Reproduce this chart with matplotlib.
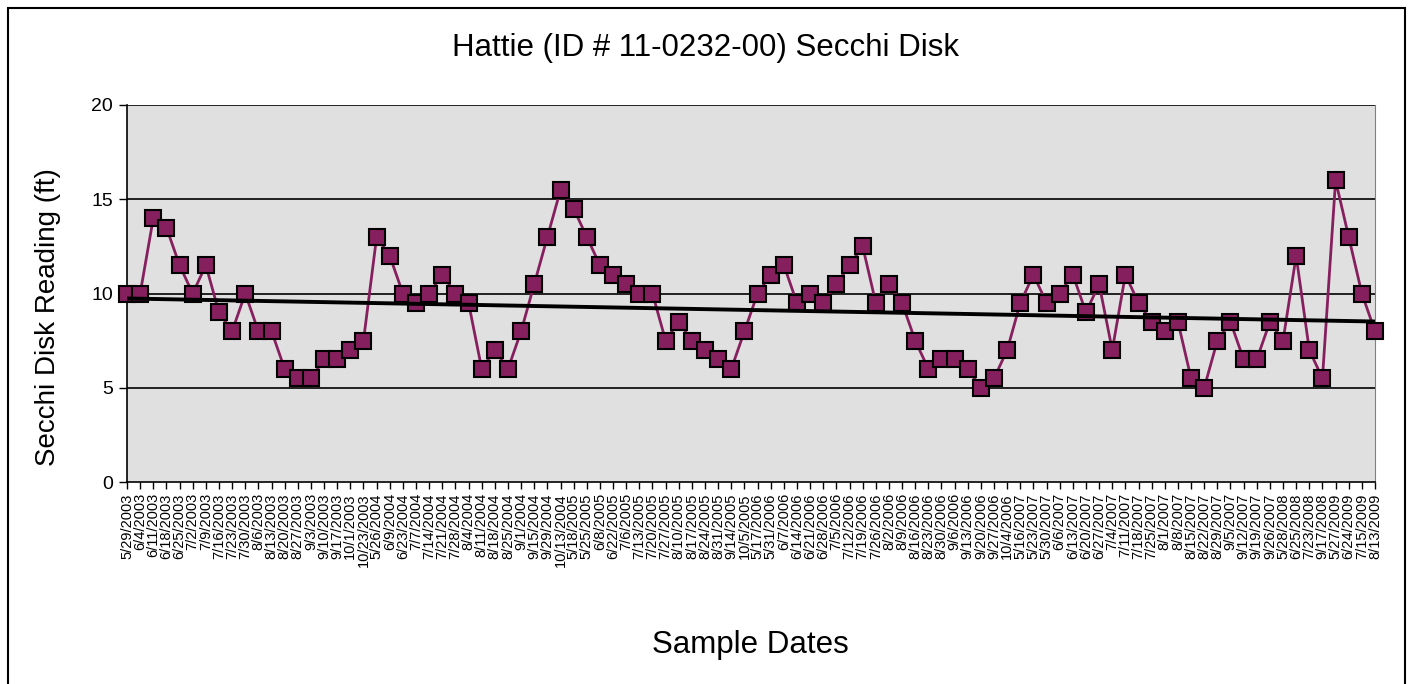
import numpy as np
import matplotlib
matplotlib.use("Agg")
import matplotlib.pyplot as plt
from matplotlib.patches import Rectangle

plt.rcParams['font.family'] = ['Liberation Sans', 'DejaVu Sans']

# sample dates (category labels)
dates = [
    "5/29/2003", "6/4/2003", "6/11/2003", "6/18/2003", "6/25/2003", "7/2/2003",
    "7/9/2003", "7/16/2003", "7/23/2003", "7/30/2003", "8/6/2003", "8/13/2003",
    "8/20/2003", "8/27/2003", "9/3/2003", "9/10/2003", "9/17/2003", "10/1/2003",
    "10/23/2003",
    "5/26/2004", "6/9/2004", "6/23/2004", "7/7/2004", "7/14/2004", "7/21/2004",
    "7/28/2004", "8/4/2004", "8/11/2004", "8/18/2004", "8/25/2004", "9/1/2004",
    "9/15/2004", "9/29/2004", "10/13/2004",
    "5/18/2005", "5/25/2005", "6/8/2005", "6/22/2005", "7/6/2005", "7/13/2005",
    "7/20/2005", "7/27/2005", "8/10/2005", "8/17/2005", "8/24/2005", "8/31/2005",
    "9/14/2005", "10/5/2005",
    "5/17/2006", "5/31/2006", "6/7/2006", "6/14/2006", "6/21/2006", "6/28/2006",
    "7/5/2006", "7/12/2006", "7/19/2006", "7/26/2006", "8/2/2006", "8/9/2006",
    "8/16/2006", "8/23/2006", "8/30/2006", "9/6/2006", "9/13/2006", "9/20/2006",
    "9/27/2006", "10/4/2006",
    "5/16/2007", "5/23/2007", "5/30/2007", "6/6/2007", "6/13/2007", "6/20/2007",
    "6/27/2007", "7/4/2007", "7/11/2007", "7/18/2007", "7/25/2007", "8/1/2007",
    "8/8/2007", "8/15/2007", "8/22/2007", "8/29/2007", "9/5/2007", "9/12/2007",
    "9/19/2007", "9/26/2007",
    "5/28/2008", "6/25/2008", "7/23/2008", "9/17/2008",
    "5/27/2009", "6/24/2009", "7/15/2009", "8/13/2009",
]

# secchi readings (ft)
secchi = [
    10, 10, 14, 13.5, 11.5, 10, 11.5, 9, 8, 10, 8, 8, 6, 5.5, 5.5, 6.5, 6.5, 7, 7.5,
    13, 12, 10, 9.5, 10, 11, 10, 9.5, 6, 7, 6, 8, 10.5, 13, 15.5,
    14.5, 13, 11.5, 11, 10.5, 10, 10, 7.5, 8.5, 7.5, 7, 6.5, 6, 8,
    10, 11, 11.5, 9.5, 10, 9.5, 10.5, 11.5, 12.5, 9.5, 10.5, 9.5, 7.5, 6, 6.5, 6.5,
    6, 5, 5.5, 7,
    9.5, 11, 9.5, 10, 11, 9, 10.5, 7, 11, 9.5, 8.5, 8, 8.5, 5.5, 5, 7.5, 8.5, 6.5,
    6.5, 8.5,
    7.5, 12, 7, 5.5,
    16, 13, 10, 8,
]

x = np.arange(len(secchi))
coef = np.polyfit(x, secchi, 1)
trend = np.polyval(coef, x)

fig = plt.figure(figsize=(14.13, 6.84), dpi=100)
ax = fig.add_axes([0.0899, 0.2953, 0.8832, 0.5512])
ax.set_facecolor('#e0e0e0')

for yv in [5, 10, 15, 20]:
    ax.axhline(yv, color='black', lw=1.2, zorder=1)

ax.plot(x, secchi, color='#861f5e', lw=2, marker='s', markersize=12,
        markerfacecolor='#861f5e', markeredgecolor='black', markeredgewidth=1.5,
        zorder=3, clip_on=False)
ax.plot(x, trend, color='black', lw=2.8, zorder=4)

ax.set_xlim(0, len(secchi) - 1)
ax.set_ylim(0, 20)
ax.set_yticks([0, 5, 10, 15, 20])
ax.set_xticks(x)
ax.set_xticklabels(dates, rotation=90, fontsize=10.5)
ax.tick_params(axis='y', labelsize=14, length=6, width=1, direction='out', pad=4)
ax.tick_params(axis='x', length=5, width=1, direction='out', pad=3)

for side in ['left', 'bottom']:
    ax.spines[side].set_color('black')
    ax.spines[side].set_linewidth(1.2)
ax.spines['right'].set_color('#808080')
ax.spines['top'].set_visible(False)

# titles placed in figure pixels (Excel-style chart area)
fig.text(705 / 1413, 1 - 48 / 684, "Hattie (ID # 11-0232-00) Secchi Disk",
         fontsize=22.5, ha='center', va='center')
fig.text(48 / 1413, 1 - 317 / 684, "Secchi Disk Reading (ft)",
         fontsize=20, rotation=90, ha='center', va='center')
fig.text(750 / 1413, 1 - 645 / 684, "Sample Dates",
         fontsize=22.5, ha='center', va='center')

fig.patches.append(Rectangle((8 / 1413, -0.1), 1397 / 1413, (684 - 8) / 684 + 0.1,
                             transform=fig.transFigure, fill=False,
                             edgecolor='black', lw=1.5))

fig.savefig("out.png", dpi=100)
